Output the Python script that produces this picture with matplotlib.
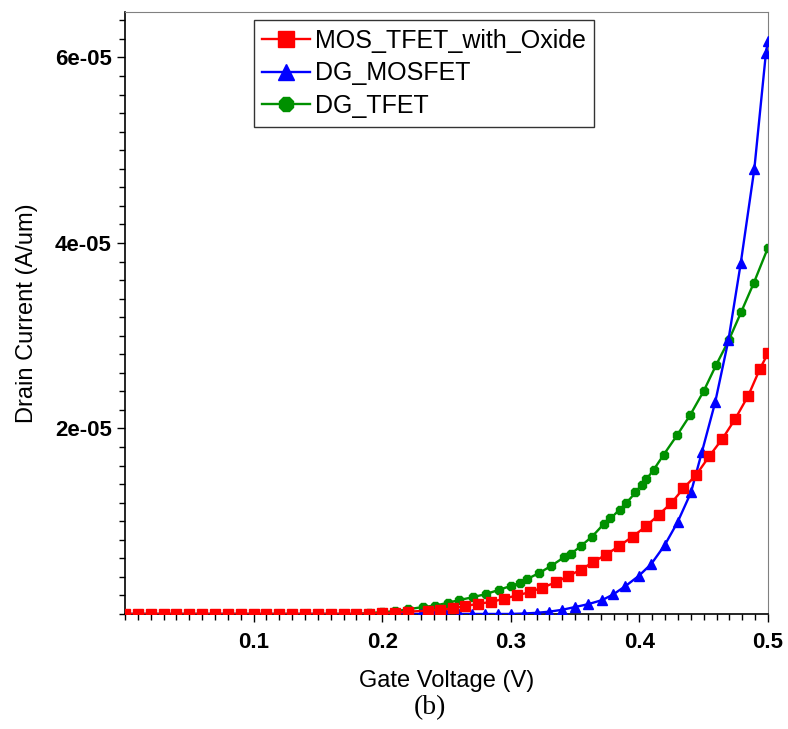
import matplotlib
matplotlib.use('Agg')
import matplotlib.pyplot as plt
from matplotlib.ticker import MultipleLocator

# Gate voltage grid (V) for the flat part of each curve
flat_x = [i / 100 for i in range(0, 23)]

# MOS_TFET_with_Oxide, drain current in units of 1e-05 A/um
red_x = flat_x + [0.2354, 0.245, 0.2548, 0.2646, 0.2747, 0.285, 0.2948, 0.3047,
                  0.3147, 0.3246, 0.3349, 0.3447, 0.3543, 0.3641, 0.3742, 0.3845,
                  0.3948, 0.4052, 0.415, 0.4248, 0.4343, 0.4442, 0.4543, 0.4646,
                  0.4744, 0.4847, 0.4938, 0.5]
red_y = [0] * 19 + [0.005, 0.01, 0.015, 0.025] + [
    0.035, 0.045, 0.06, 0.085, 0.11, 0.13, 0.165, 0.2,
    0.235, 0.285, 0.34, 0.41, 0.475, 0.56, 0.64, 0.735,
    0.835, 0.945, 1.07, 1.195, 1.355, 1.50, 1.70, 1.89,
    2.10, 2.355, 2.645, 2.81]

# DG_MOSFET
blue_x = [i / 100 for i in range(0, 37)] + [
    0.3711, 0.3796, 0.3891, 0.3995, 0.4093, 0.4196, 0.4297, 0.4401,
    0.4486, 0.4589, 0.4692, 0.4788, 0.4894, 0.4984, 0.5]
blue_y = [0] * 31 + [0.005, 0.012, 0.025, 0.045, 0.075, 0.105] + [
    0.15, 0.21, 0.30, 0.41, 0.54, 0.74, 0.99, 1.31,
    1.745, 2.28, 2.95, 3.78, 4.80, 6.05, 6.18]

# DG_TFET
green_x = flat_x + [0.2316, 0.2411, 0.2509, 0.2599, 0.2703, 0.2806, 0.2909, 0.3005,
                    0.3072, 0.3124, 0.3219, 0.331, 0.3413, 0.3465, 0.3543, 0.3633,
                    0.3723, 0.3775, 0.3847, 0.3899, 0.3969, 0.4021, 0.4054, 0.4111,
                    0.4188, 0.4292, 0.4395, 0.4499, 0.4597, 0.4695, 0.4793, 0.489, 0.5]
green_y = [0] * 19 + [0.01, 0.02, 0.03, 0.05] + [
    0.075, 0.09, 0.12, 0.15, 0.18, 0.215, 0.26, 0.305,
    0.335, 0.375, 0.44, 0.515, 0.61, 0.645, 0.73, 0.835,
    0.97, 1.03, 1.125, 1.195, 1.31, 1.395, 1.45, 1.555,
    1.715, 1.925, 2.145, 2.40, 2.685, 2.95, 3.26, 3.57, 3.95]

scale = 1e-05

plt.rcParams['font.family'] = ['Liberation Sans', 'DejaVu Sans']

fig = plt.figure(figsize=(7.88, 7.29), dpi=100)
ax = fig.add_axes([0.1586, 0.1578, 0.816, 0.8257])

g, = ax.plot(green_x, [v * scale for v in green_y], color='#009000', marker='8',
             markersize=6.5, linewidth=1.7, label='DG_TFET', zorder=2)
b, = ax.plot(blue_x, [v * scale for v in blue_y], color='#0000ff', marker='^',
             markersize=7, linewidth=1.7, label='DG_MOSFET', zorder=3)
r, = ax.plot(red_x, [v * scale for v in red_y], color='#ff0000', marker='s',
             markersize=7, linewidth=1.7, label='MOS_TFET_with_Oxide', zorder=4)

ax.set_xlim(0, 0.5)
ax.set_ylim(0, 6.49e-05)
ax.set_xticks([0.1, 0.2, 0.3, 0.4, 0.5])
ax.set_xticklabels(['0.1', '0.2', '0.3', '0.4', '0.5'])
ax.set_yticks([2e-05, 4e-05, 6e-05])
ax.set_yticklabels(['2e-05', '4e-05', '6e-05'])
ax.xaxis.set_minor_locator(MultipleLocator(0.01))
ax.yaxis.set_minor_locator(MultipleLocator(2e-06))
ax.tick_params(which='major', direction='out', length=6, width=1, labelsize=16)
ax.tick_params(axis='x', which='major', pad=7)
ax.tick_params(which='minor', direction='out', length=4, width=1)
for lab in ax.get_xticklabels() + ax.get_yticklabels():
    lab.set_fontweight('bold')

for side in ['top', 'right']:
    ax.spines[side].set_color('#808080')
ax.spines['left'].set_linewidth(1.2)
ax.spines['bottom'].set_linewidth(1.2)

ax.set_xlabel('Gate Voltage (V)', fontsize=17, labelpad=12)
ax.set_ylabel('Drain Current (A/um)', fontsize=17, labelpad=12)

leg = ax.legend(handles=[r, b, g], loc='upper left', bbox_to_anchor=(0.2, 0.987),
                borderaxespad=0, fontsize=18, markerscale=1.7, handlelength=1.9,
                handletextpad=0.2, labelspacing=0.35, borderpad=0.35,
                fancybox=False, framealpha=1)
leg.get_frame().set_edgecolor('#333333')
leg.get_frame().set_linewidth(1)

fig.text(0.545, 0.029, '(b)', fontsize=20, family='Liberation Serif',
         ha='center', va='center')

fig.savefig('out.png', dpi=100)
